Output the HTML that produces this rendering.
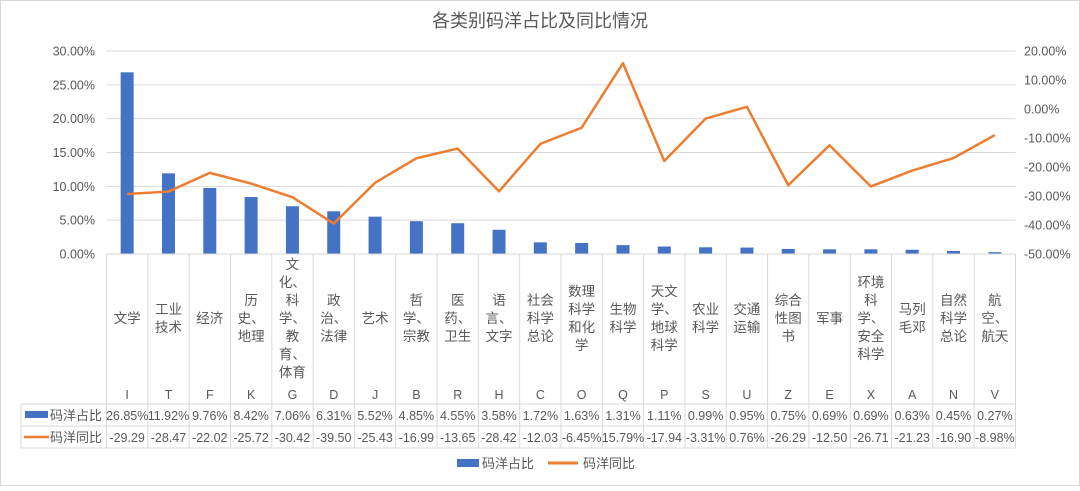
<!DOCTYPE html>
<html><head><meta charset="utf-8">
<style>
body{margin:0;background:#fff;}
svg text{font-family:"Liberation Sans","Noto Sans CJK SC",sans-serif;fill:#595959;}
</style></head>
<body>
<svg id="chart" width="1080" height="486" viewBox="0 0 1080 486">
<rect x="0.5" y="0.5" width="1079" height="485" fill="#fff" stroke="#d9d9d9"/>
<text x="540" y="27" text-anchor="middle" font-size="18">各类别码洋占比及同比情况</text>
<g id="grid"></g><g id="axes"></g><g id="bars"></g><g id="line"></g><g id="table"></g>
<g>
<rect x="457" y="459" width="22" height="8" fill="#4472C4"/>
<text x="482" y="468" font-size="13">码洋占比</text>
<line x1="548" y1="463" x2="578" y2="463" stroke="#ED7D31" stroke-width="3"/>
<text x="583" y="468" font-size="13">码洋同比</text>
</g>
</svg>
<script>
const categories=["文学","工业\n技术","经济","历\n史、\n地理","文\n化、\n科\n学、\n教\n育、\n体育","政\n治、\n法律","艺术","哲\n学、\n宗教","医\n药、\n卫生","语\n言、\n文字","社会\n科学\n总论","数理\n科学\n和化\n学","生物\n科学","天文\n学、\n地球\n科学","农业\n科学","交通\n运输","综合\n性图\n书","军事","环境\n科\n学、\n安全\n科学","马列\n毛邓","自然\n科学\n总论","航\n空、\n航天"];
const codes=["I","T","F","K","G","D","J","B","R","H","C","O","Q","P","S","U","Z","E","X","A","N","V"];
const shareValues=[26.85,11.92,9.76,8.42,7.06,6.31,5.52,4.85,4.55,3.58,1.72,1.63,1.31,1.11,0.99,0.95,0.75,0.69,0.69,0.63,0.45,0.27];
const yoyValues=[-29.29,-28.47,-22.02,-25.72,-30.42,-39.50,-25.43,-16.99,-13.65,-28.42,-12.03,-6.45,15.79,-17.94,-3.31,0.76,-26.29,-12.50,-26.71,-21.23,-16.90,-8.98];
const yoyLabels=["-29.29","-28.47","-22.02","-25.72","-30.42","-39.50","-25.43","-16.99","-13.65","-28.42","-12.03","-6.45%","15.79%","-17.94","-3.31%","0.76%","-26.29","-12.50","-26.71","-21.23","-16.90","-8.98%"];
const leftTicks=[0,5,10,15,20,25,30];
const rightTicks=[20,10,0,-10,-20,-30,-40,-50];
const NS="http://www.w3.org/2000/svg";
const X0=106.5,X1=1015.5,Y0=254,YT=51;
const cw=(X1-X0)/categories.length;
const xc=i=>X0+cw*(i+0.5);
const yL=v=>Y0-(v/30)*(Y0-YT);
const yR=v=>Y0-((v+50)/70)*(Y0-YT);
function mk(tag,attrs,parent,text){const e=document.createElementNS(NS,tag);for(const k in attrs)e.setAttribute(k,attrs[k]);if(text!==undefined)e.textContent=text;document.getElementById(parent).appendChild(e);return e;}
leftTicks.forEach(t=>{
 if(t>0){const g=mk('line',{x1:X0,x2:X1,y1:yL(t),y2:yL(t),stroke:'#d9d9d9'},'grid');
 
 }
 const l=mk('text',{x:95,y:yL(t)+4.5,'text-anchor':'end','font-size':12.5},'axes',t.toFixed(2)+'%');
 
 
});
rightTicks.forEach(t=>{
 const l=mk('text',{x:1024,y:yR(t)+4.5,'font-size':12.5},'axes',t.toFixed(2)+'%');
 
 
});
shareValues.forEach((v,i)=>{
 const b=mk('rect',{x:xc(i)-6.5,y:yL(v),width:13,height:Y0-yL(v),fill:'#4472C4'},'bars');
 
 
});
const pl=mk('polyline',{points:yoyValues.map((v,i)=>xc(i)+','+yR(v)).join(' '),fill:'none',stroke:'#ED7D31','stroke-width':2.5,'stroke-linejoin':'round'},'line');


// table
const TB=[[X0,Y0,X1,Y0],[21,404,X1,404],[21,426,X1,426],[21,448,X1,448],[21,404,21,448],[X0,Y0,X0,448]];
TB.forEach(a=>{const l=mk('line',{x1:a[0],y1:a[1],x2:a[2],y2:a[3],stroke:'#d9d9d9'},'table');
 
 });
categories.forEach((c,i)=>{
 const xr=X0+cw*(i+1);
 const l=mk('line',{x1:xr,y1:Y0,x2:xr,y2:448,stroke:'#d9d9d9'},'table');
 
 
 const lines=c.split('\n');const lh=18;const top=318-(lines.length-1)*lh/2;
 lines.forEach((s,k)=>{const t=mk('text',{x:xc(i),y:top+k*lh+5,'text-anchor':'middle','font-size':13.5},'table',s);
  
  });
 const cd=mk('text',{x:xc(i),y:399,'text-anchor':'middle','font-size':12.5},'table',codes[i]);
 
 
 const s=mk('text',{x:xc(i),y:420,'text-anchor':'middle','font-size':12.5},'table',shareValues[i].toFixed(2)+'%');
 
 
 const y=mk('text',{x:xc(i),y:442,'text-anchor':'middle','font-size':12.5},'table',yoyLabels[i]);
 
 
});
const s1=mk('rect',{x:25,y:411,width:23,height:7,fill:'#4472C4'},'table');


const t1=mk('text',{x:50,y:420,'font-size':13},'table','码洋占比');


const s2=mk('line',{x1:24,y1:437,x2:49,y2:437,stroke:'#ED7D31','stroke-width':2.5},'table');


const t2=mk('text',{x:50,y:442,'font-size':13},'table','码洋同比');


</script>
</body></html>
